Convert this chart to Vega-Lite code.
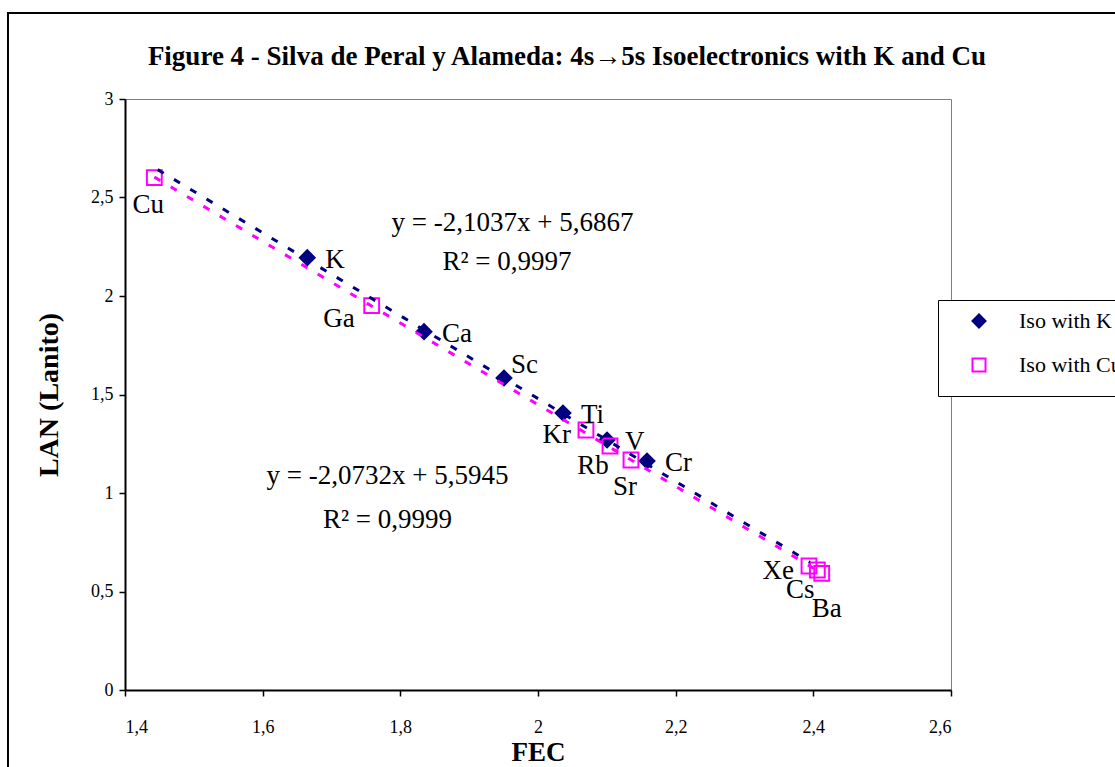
{
  "$schema": "https://vega.github.io/schema/vega-lite/v6.json",
  "width": 826,
  "height": 591,
  "autosize": {"type": "none"},
  "padding": {"left": 125, "top": 99, "right": 164, "bottom": 77},
  "background": "white",
  "title": {
    "text": "Figure 4 - Silva de Peral y Alameda: 4s→5s Isoelectronics with K and Cu",
    "font": "Liberation Serif",
    "fontSize": 27,
    "fontWeight": "bold",
    "color": "black",
    "anchor": "middle",
    "frame": "group",
    "dx": 29,
    "dy": 78,
    "offset": 19
  },
  "datasets": {
    "points": [
      {"element": "K", "series": "Iso with K", "FEC": 1.6648, "LAN": 2.1944},
      {"element": "Ca", "series": "Iso with K", "FEC": 1.8344, "LAN": 1.8188},
      {"element": "Sc", "series": "Iso with K", "FEC": 1.9506, "LAN": 1.5838},
      {"element": "Ti", "series": "Iso with K", "FEC": 2.0363, "LAN": 1.4061},
      {"element": "V", "series": "Iso with K", "FEC": 2.1003, "LAN": 1.269},
      {"element": "Cr", "series": "Iso with K", "FEC": 2.1584, "LAN": 1.1624},
      {"element": "Cu", "series": "Iso with Cu", "FEC": 1.4426, "LAN": 2.6005},
      {"element": "Ga", "series": "Iso with Cu", "FEC": 1.7584, "LAN": 1.9508},
      {"element": "Kr", "series": "Iso with Cu", "FEC": 2.0697, "LAN": 1.3198},
      {"element": "Rb", "series": "Iso with Cu", "FEC": 2.1046, "LAN": 1.2386},
      {"element": "Sr", "series": "Iso with Cu", "FEC": 2.1351, "LAN": 1.1675},
      {"element": "Xe", "series": "Iso with Cu", "FEC": 2.3937, "LAN": 0.6294},
      {"element": "Cs", "series": "Iso with Cu", "FEC": 2.4058, "LAN": 0.6091},
      {"element": "Ba", "series": "Iso with Cu", "FEC": 2.4122, "LAN": 0.5924}
    ],
    "trend": [
      {"series": "Iso with K", "FEC": 1.4475, "LAN": 2.6416},
      {"series": "Iso with K", "FEC": 2.395, "LAN": 0.6483},
      {"series": "Iso with Cu", "FEC": 1.4426, "LAN": 2.6037},
      {"series": "Iso with Cu", "FEC": 2.4122, "LAN": 0.5935}
    ]
  },
  "layer": [
    {
      "encoding": {
        "x": {
          "field": "FEC",
          "type": "quantitative",
          "title": "FEC",
          "scale": {"domain": [1.4, 2.6], "nice": false, "zero": false},
          "axis": {
            "values": [1.4, 1.6, 1.8, 2, 2.2, 2.4, 2.6],
            "labelExpr": "replace(toString(datum.value), '.', ',')",
            "labelPadding": 22,
            "titlePadding": 3,
            "titleFontSize": 27
          }
        },
        "y": {
          "field": "LAN",
          "type": "quantitative",
          "title": "LAN (Lanito)",
          "scale": {"domain": [0, 3], "nice": false, "zero": false},
          "axis": {
            "values": [0, 0.5, 1, 1.5, 2, 2.5, 3],
            "labelExpr": "replace(toString(datum.value), '.', ',')",
            "labelPadding": 6,
            "titlePadding": 27,
            "titleFontSize": 28
          }
        }
      },
      "layer": [
        {
          "data": {"name": "points"},
          "mark": {"type": "point", "filled": true, "size": 220, "strokeWidth": 2, "opacity": 1},
          "encoding": {
            "shape": {
              "field": "series",
              "type": "nominal",
              "scale": {"domain": ["Iso with K", "Iso with Cu"], "range": ["diamond", "square"]},
              "legend": {
                "title": " ",
                "titleOrient": "bottom",
                "titleFontSize": 6,
                "titlePadding": 4,
                "orient": "none",
                "legendX": 813,
                "legendY": 201,
                "direction": "vertical",
                "fillColor": "white",
                "strokeColor": "black",
                "padding": 10,
                "rowPadding": 22,
                "symbolSize": 170,
                "symbolStrokeWidth": 2,
                "symbolOffset": 20,
                "labelOffset": 29,
                "labelFont": "Liberation Serif",
                "labelFontSize": 22,
                "labelColor": "black",
                "labelLimit": 400
              }
            },
            "fill": {
              "field": "series",
              "type": "nominal",
              "scale": {"domain": ["Iso with K", "Iso with Cu"], "range": ["#000080", "transparent"]}
            },
            "stroke": {
              "field": "series",
              "type": "nominal",
              "scale": {"domain": ["Iso with K", "Iso with Cu"], "range": ["#000080", "#FF00FF"]}
            }
          }
        },
        {
          "data": {"name": "trend"},
          "transform": [{"filter": "datum.series == 'Iso with K'"}],
          "mark": {"type": "line", "color": "#000080", "strokeWidth": 3, "strokeDash": [7, 12]},
          "encoding": {}
        },
        {
          "data": {"name": "trend"},
          "transform": [{"filter": "datum.series == 'Iso with Cu'"}],
          "mark": {"type": "line", "color": "#FF00FF", "strokeWidth": 3, "strokeDash": [7, 12]},
          "encoding": {}
        },
        {
          "data": {"name": "points"},
          "transform": [{"filter": {"field": "element", "oneOf": ["K", "Ca", "Ti", "V", "Cr"]}}],
          "mark": {"type": "text", "align": "left", "baseline": "middle", "dx": 18, "dy": 2, "fontSize": 27, "font": "Liberation Serif", "color": "black"},
          "encoding": {"text": {"field": "element"}}
        },
        {
          "data": {"name": "points"},
          "transform": [{"filter": {"field": "element", "oneOf": ["Sc"]}}],
          "mark": {"type": "text", "align": "left", "baseline": "middle", "dx": 7, "dy": -13, "fontSize": 27, "font": "Liberation Serif", "color": "black"},
          "encoding": {"text": {"field": "element"}}
        },
        {
          "data": {"name": "points"},
          "transform": [{"filter": {"field": "element", "oneOf": ["Ga"]}}],
          "mark": {"type": "text", "align": "right", "baseline": "middle", "dx": -17, "dy": 13, "fontSize": 27, "font": "Liberation Serif", "color": "black"},
          "encoding": {"text": {"field": "element"}}
        },
        {
          "data": {"name": "points"},
          "transform": [{"filter": {"field": "element", "oneOf": ["Kr", "Xe"]}}],
          "mark": {"type": "text", "align": "right", "baseline": "middle", "dx": -15, "dy": 5, "fontSize": 27, "font": "Liberation Serif", "color": "black"},
          "encoding": {"text": {"field": "element"}}
        },
        {
          "data": {"name": "points"},
          "transform": [{"filter": {"field": "element", "oneOf": ["Rb", "Cs"]}}],
          "mark": {"type": "text", "align": "center", "baseline": "middle", "dx": -17, "dy": 20, "fontSize": 27, "font": "Liberation Serif", "color": "black"},
          "encoding": {"text": {"field": "element"}}
        },
        {
          "data": {"name": "points"},
          "transform": [{"filter": {"field": "element", "oneOf": ["Cu", "Sr"]}}],
          "mark": {"type": "text", "align": "center", "baseline": "middle", "dx": -6, "dy": 27, "fontSize": 27, "font": "Liberation Serif", "color": "black"},
          "encoding": {"text": {"field": "element"}}
        },
        {
          "data": {"name": "points"},
          "transform": [{"filter": {"field": "element", "oneOf": ["Ba"]}}],
          "mark": {"type": "text", "align": "center", "baseline": "middle", "dx": 5, "dy": 36, "fontSize": 27, "font": "Liberation Serif", "color": "black"},
          "encoding": {"text": {"field": "element"}}
        }
      ]
    },
    {
      "data": {"values": [{"fit": "Iso with K"}]},
      "mark": {"type": "text", "text": "y = -2,1037x + 5,6867", "align": "center", "baseline": "middle", "fontSize": 27, "font": "Liberation Serif", "color": "black"},
      "encoding": {
        "x": {"datum": 1.963, "type": "quantitative", "title": "FEC"},
        "y": {"datum": 2.3706, "type": "quantitative", "title": "LAN (Lanito)"}
      }
    },
    {
      "data": {"values": [{"fit": "Iso with K"}]},
      "mark": {"type": "text", "text": "R² = 0,9997", "align": "center", "baseline": "middle", "fontSize": 27, "font": "Liberation Serif", "color": "black"},
      "encoding": {
        "x": {"datum": 1.955, "type": "quantitative", "title": "FEC"},
        "y": {"datum": 2.1726, "type": "quantitative", "title": "LAN (Lanito)"}
      }
    },
    {
      "data": {"values": [{"fit": "Iso with Cu"}]},
      "mark": {"type": "text", "text": "y = -2,0732x + 5,5945", "align": "center", "baseline": "middle", "fontSize": 27, "font": "Liberation Serif", "color": "black"},
      "encoding": {
        "x": {"datum": 1.7814, "type": "quantitative", "title": "FEC"},
        "y": {"datum": 1.0863, "type": "quantitative", "title": "LAN (Lanito)"}
      }
    },
    {
      "data": {"values": [{"fit": "Iso with Cu"}]},
      "mark": {"type": "text", "text": "R² = 0,9999", "align": "center", "baseline": "middle", "fontSize": 27, "font": "Liberation Serif", "color": "black"},
      "encoding": {
        "x": {"datum": 1.7814, "type": "quantitative", "title": "FEC"},
        "y": {"datum": 0.8629, "type": "quantitative", "title": "LAN (Lanito)"}
      }
    },
    {
      "data": {"values": [{"part": "chart frame"}]},
      "mark": {"type": "rect", "fill": "transparent", "stroke": "black", "strokeWidth": 2, "clip": false},
      "encoding": {
        "x": {"datum": 1.23, "type": "quantitative", "title": "FEC"},
        "x2": {"datum": 3.0},
        "y": {"datum": 3.4365, "type": "quantitative", "title": "LAN (Lanito)"},
        "y2": {"datum": -0.6}
      }
    }
  ],
  "config": {
    "font": "Liberation Serif",
    "view": {"stroke": "#808080", "strokeWidth": 1},
    "axis": {
      "grid": false,
      "domainColor": "black",
      "domainWidth": 2,
      "tickColor": "black",
      "tickWidth": 1.5,
      "tickSize": 6,
      "labelFont": "Liberation Serif",
      "labelFontSize": 18,
      "labelColor": "black",
      "titleFont": "Liberation Serif",
      "titleFontSize": 26,
      "titleFontWeight": "bold",
      "titleColor": "black"
    }
  }
}
